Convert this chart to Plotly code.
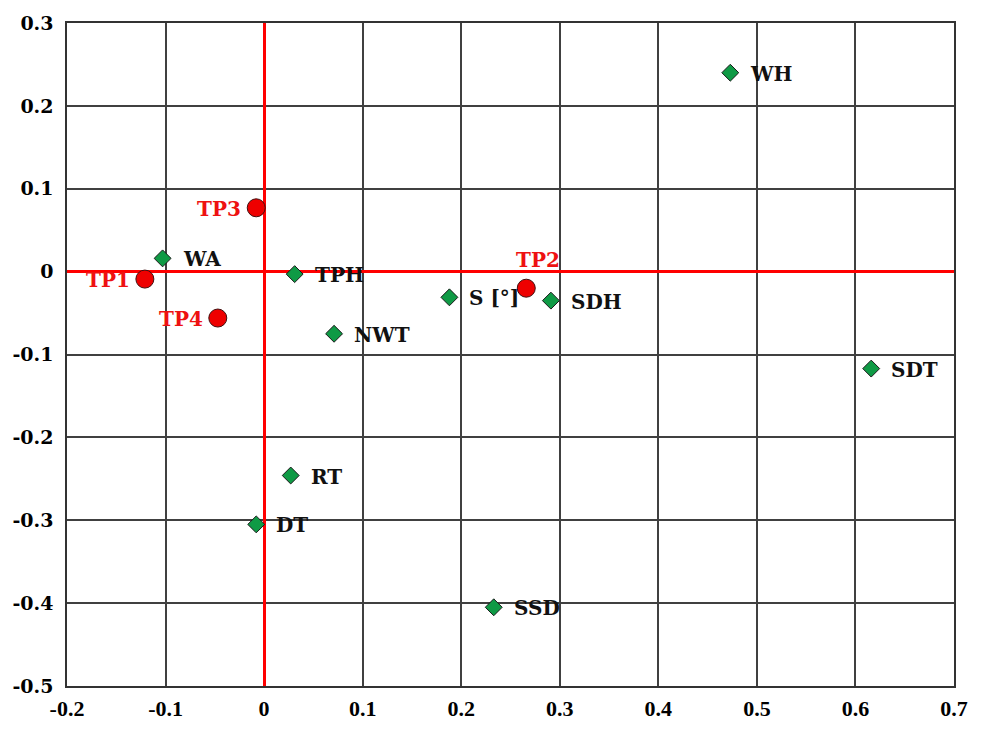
import plotly.graph_objects as go

# Variables (green diamonds)
var_names = ["WH", "SDT", "SSD", "DT", "RT", "NWT", "S [°]", "SDH", "TPH", "WA"]
var_x = [0.473, 0.616, 0.233, -0.008, 0.027, 0.071, 0.188, 0.291, 0.031, -0.103]
var_y = [0.240, -0.117, -0.405, -0.305, -0.246, -0.075, -0.031, -0.035, -0.003, 0.016]

# Treatments (red circles)
tp_names = ["TP1", "TP2", "TP3", "TP4"]
tp_x = [-0.121, 0.266, -0.008, -0.047]
tp_y = [-0.009, -0.020, 0.077, -0.056]

x_ticks = [-0.2, -0.1, 0, 0.1, 0.2, 0.3, 0.4, 0.5, 0.6, 0.7]
x_ticklabels = ["-0.2", "-0.1", "0", "0.1", "0.2", "0.3", "0.4", "0.5", "0.6", "0.7"]
y_ticks = [-0.5, -0.4, -0.3, -0.2, -0.1, 0, 0.1, 0.2, 0.3]
y_ticklabels = ["-0.5", "-0.4", "-0.3", "-0.2", "-0.1", "0", "0.1", "0.2", "0.3"]

fig = go.Figure()
fig.add_trace(go.Scatter(
    x=var_x, y=var_y, mode="markers",
    marker=dict(symbol="diamond", size=13, color="#0f9a45",
                line=dict(color="#1a1a1a", width=1)),
    showlegend=False, hoverinfo="skip"))
fig.add_trace(go.Scatter(
    x=tp_x, y=tp_y, mode="markers",
    marker=dict(symbol="circle", size=18, color="#ee0000",
                line=dict(color="#401010", width=1)),
    showlegend=False, hoverinfo="skip"))

lab_font = dict(family="DejaVu Serif", size=20, weight="bold")
for n, x, y in zip(var_names, var_x, var_y):
    fig.add_annotation(x=x, y=y, text=n, showarrow=False, xanchor="left",
                       yanchor="middle", xshift=18, yshift=-1,
                       font=dict(lab_font, color="#111111"))
for n, x, y in zip(tp_names, tp_x, tp_y):
    if n == "TP2":
        fig.add_annotation(x=x, y=y, text=n, showarrow=False, xanchor="center",
                           yanchor="middle", xshift=12, yshift=28,
                           font=dict(lab_font, color="#ee1111"))
    else:
        fig.add_annotation(x=x, y=y, text=n, showarrow=False, xanchor="right",
                           yanchor="middle", xshift=-13, yshift=-1,
                           font=dict(lab_font, color="#ee1111"))

fig.update_layout(
    autosize=True,
    margin=dict(l=63, r=32, t=20, b=32),
    paper_bgcolor="white", plot_bgcolor="white",
    xaxis=dict(range=[-0.2, 0.7], tickvals=x_ticks, ticktext=x_ticklabels,
               showgrid=True, gridcolor="#404040", gridwidth=1.5,
               zeroline=True, zerolinecolor="#ff0000", zerolinewidth=3,
               showline=True, linecolor="#333333", linewidth=1.5, mirror=True,
               ticks="", ticklabelstandoff=2,
               tickfont=dict(family="Liberation Serif", size=22,
                             weight="bold", color="black")),
    yaxis=dict(range=[-0.5, 0.3], tickvals=y_ticks, ticktext=y_ticklabels,
               showgrid=True, gridcolor="#404040", gridwidth=1.5,
               zeroline=True, zerolinecolor="#ff0000", zerolinewidth=3,
               showline=True, linecolor="#333333", linewidth=1.5, mirror=True,
               ticks="", ticklabelstandoff=8,
               tickfont=dict(family="DejaVu Serif", size=19,
                             weight="bold", color="black")),
)

fig.write_html("out.html",
               default_width="100vw", default_height="100vh",
               config=dict(displayModeBar=False, responsive=True),
               post_script="document.body.style.margin='0';document.body.style.overflow='hidden';window.dispatchEvent(new Event('resize'));")
